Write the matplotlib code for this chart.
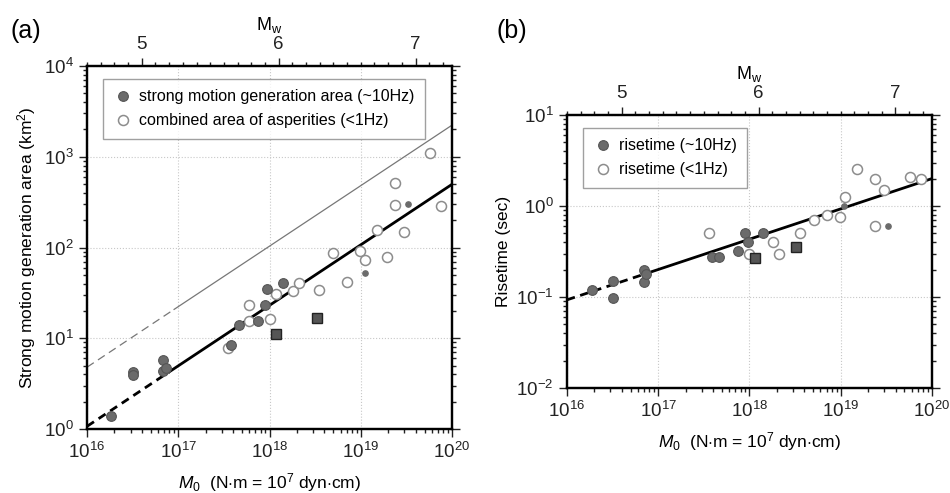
import numpy as np
import matplotlib
matplotlib.use("Agg")
import matplotlib.pyplot as plt
from matplotlib.ticker import LogLocator, NullFormatter, FixedLocator

plt.rcParams['font.family'] = ['Liberation Sans', 'DejaVu Sans']
plt.rcParams['mathtext.fontset'] = 'custom'
plt.rcParams['mathtext.rm'] = 'Liberation Sans'
plt.rcParams['mathtext.it'] = 'Liberation Sans:italic'
plt.rcParams['mathtext.bf'] = 'Liberation Sans:bold'

# ---- panel (a): strong motion generation area ----
a_fill_m0 = [1.83e16, 3.2e16, 3.2e16, 6.8e16, 6.8e16, 7.35e16, 3.8e17, 4.6e17,
             7.5e17, 8.9e17, 9.4e17, 1.39e18]
a_fill_s = [1.38, 4.3, 3.9, 5.7, 4.4, 4.7, 8.5, 14, 15.5, 23.5, 34.5, 41]
a_small_m0 = [1.1e19, 3.3e19]
a_small_s = [53, 300]
a_sq_m0 = [1.17e18, 3.33e18]
a_sq_s = [11.1, 16.6]
a_open_m0 = [3.55e17, 6.0e17, 6.0e17, 1.0e18, 1.18e18, 1.83e18, 2.09e18, 3.53e18,
             4.98e18, 7.0e18, 9.9e18, 1.11e19, 1.51e19, 1.92e19, 2.35e19, 2.35e19,
             3.0e19, 5.8e19, 7.6e19]
a_open_s = [7.8, 15.5, 23.5, 16.5, 31, 33, 41, 34, 88, 42, 91, 73, 154, 78,
            510, 297, 150, 1100, 287]
# fit line endpoints (dashed part, solid part)
a_fit_m0 = [1e16, 8e16, 1e20]
a_fit_s = [1.07, 4.28, 497]
a_asp_m0 = [1e16, 9e16, 1e20]
a_asp_s = [4.8, 20.8, 2230]

# ---- panel (b): risetime ----
b_fill_m0 = [1.9e16, 3.2e16, 3.2e16, 6.9e16, 6.9e16, 7.35e16, 3.85e17, 4.65e17,
             7.5e17, 9.0e17, 9.7e17, 1.4e18]
b_fill_t = [0.118, 0.148, 0.098, 0.198, 0.145, 0.178, 0.277, 0.277, 0.318,
            0.51, 0.40, 0.51]
b_small_m0 = [1.1e19, 3.3e19]
b_small_t = [1.0, 0.60]
b_sq_m0 = [1.16e18, 3.2e18]
b_sq_t = [0.27, 0.35]
b_open_m0 = [3.57e17, 1.0e18, 1.83e18, 2.11e18, 3.56e18, 5.1e18, 7.1e18, 9.9e18,
             1.11e19, 1.51e19, 2.35e19, 2.35e19, 3.0e19, 5.8e19, 7.6e19]
b_open_t = [0.50, 0.30, 0.40, 0.30, 0.50, 0.70, 0.80, 0.75, 1.27, 2.53, 0.60,
            1.98, 1.5, 2.1, 1.98]
b_fit_m0 = [1e16, 8e16, 1e20]
b_fit_t = [0.093, 0.186, 2.0]

mw_major = [5, 6, 7]
mw_minor = np.arange(4.6, 7.3, 0.1)

fill_c = '#6b6b6b'
open_c = '#8c8c8c'


def mw_to_m0(mw):
    return 10 ** (1.5 * np.asarray(mw) + 9.1)


def style_axes(ax, ylim):
    ax.set_xscale('log')
    ax.set_yscale('log')
    ax.set_xlim(1e16, 1e20)
    ax.set_ylim(*ylim)
    ax.xaxis.set_major_locator(LogLocator(base=10, numticks=10))
    ax.xaxis.set_minor_locator(LogLocator(base=10, subs=np.arange(2, 10), numticks=20))
    ax.yaxis.set_minor_locator(LogLocator(base=10, subs=np.arange(2, 10), numticks=20))
    ax.xaxis.set_minor_formatter(NullFormatter())
    ax.yaxis.set_minor_formatter(NullFormatter())
    ax.grid(True, which='major', color='#c8c8c8', ls=':', lw=0.8)
    ax.tick_params(which='both', direction='out', right=True, top=False,
                   labelsize=13.5, width=1.0, colors='#222222')
    ax.tick_params(which='major', length=6)
    ax.tick_params(which='minor', length=3)
    for sp in ax.spines.values():
        sp.set_linewidth(1.6)
    ax.set_xlabel(r'$M_0$  (N$\cdot$m = 10$^7$ dyn$\cdot$cm)', fontsize=12.5, labelpad=6)
    top = ax.twiny()
    top.set_xscale('log')
    top.set_xlim(ax.get_xlim())
    top.xaxis.set_major_locator(FixedLocator(mw_to_m0(mw_major)))
    top.xaxis.set_minor_locator(FixedLocator(mw_to_m0(mw_minor)))
    top.set_xticklabels([str(m) for m in mw_major])
    top.xaxis.set_minor_formatter(NullFormatter())
    top.tick_params(which='both', direction='out', labelsize=13.5, width=1.0, colors='#222222')
    top.tick_params(which='major', length=6)
    top.tick_params(which='minor', length=3)
    top.set_xlabel(r'$\mathrm{M_w}$', fontsize=13, labelpad=4)
    for sp in top.spines.values():
        sp.set_linewidth(1.6)
    return top


def draw_points(ax, fm, fv, sm, sv, qm, qv, om, ov, labels):
    ax.plot(om, ov, 'o', ls='none', ms=7.2, mfc='white', mec=open_c, mew=1.1,
            label=labels[1], zorder=3)
    ax.plot(fm, fv, 'o', ls='none', ms=7, mfc=fill_c, mec='#555555', mew=0.8,
            label=labels[0], zorder=4)
    ax.plot(sm, sv, 'o', ls='none', ms=3.8, mfc=fill_c, mec=fill_c, zorder=4)
    ax.plot(qm, qv, 's', ls='none', ms=7.5, mfc='#555555', mec='#222222', mew=1.0,
            zorder=5)


def draw_fit(ax, xs, ys, color, lw, dash):
    ax.plot(xs[:2], ys[:2], ls=(0, dash), color=color, lw=lw, zorder=2)
    ax.plot(xs[1:], ys[1:], ls='-', color=color, lw=lw, zorder=2)


def add_legend(ax, anchor):
    h, l = ax.get_legend_handles_labels()
    leg = ax.legend(h[::-1], l[::-1], loc='upper left', bbox_to_anchor=anchor,
                    borderaxespad=0, fontsize=11.5, fancybox=False, edgecolor='#888888',
                    handletextpad=0.4, handlelength=1.2, borderpad=0.65, labelspacing=0.55)
    leg.get_frame().set_linewidth(1.0)
    return leg


fig = plt.figure(figsize=(9.5, 4.93), dpi=100)
ax1 = fig.add_axes([0.0916, 0.1298, 0.3842, 0.7363])
ax2 = fig.add_axes([0.5968, 0.2130, 0.3842, 0.5538])

style_axes(ax1, (1, 1e4))
draw_fit(ax1, a_asp_m0, a_asp_s, '#777777', 0.9, (6.5, 4))
draw_fit(ax1, a_fit_m0, a_fit_s, 'black', 2.0, (3, 2))
draw_points(ax1, a_fill_m0, a_fill_s, a_small_m0, a_small_s, a_sq_m0, a_sq_s,
            a_open_m0, a_open_s,
            ['strong motion generation area (~10Hz)', 'combined area of asperities (<1Hz)'])
ax1.set_ylabel('Strong motion generation area (km$^2$)', fontsize=12.5, labelpad=4)
add_legend(ax1, (0.044, 0.964))

style_axes(ax2, (1e-2, 1e1))
draw_fit(ax2, b_fit_m0, b_fit_t, 'black', 2.0, (3, 2))
draw_points(ax2, b_fill_m0, b_fill_t, b_small_m0, b_small_t, b_sq_m0, b_sq_t,
            b_open_m0, b_open_t, ['risetime (~10Hz)', 'risetime (<1Hz)'])
ax2.set_ylabel('Risetime (sec)', fontsize=12.5, labelpad=4)
add_legend(ax2, (0.044, 0.952))

fig.text(0.011, 0.937, '(a)', fontsize=18, va='center')
fig.text(0.523, 0.937, '(b)', fontsize=18, va='center')

fig.savefig('out.png', dpi=100)
